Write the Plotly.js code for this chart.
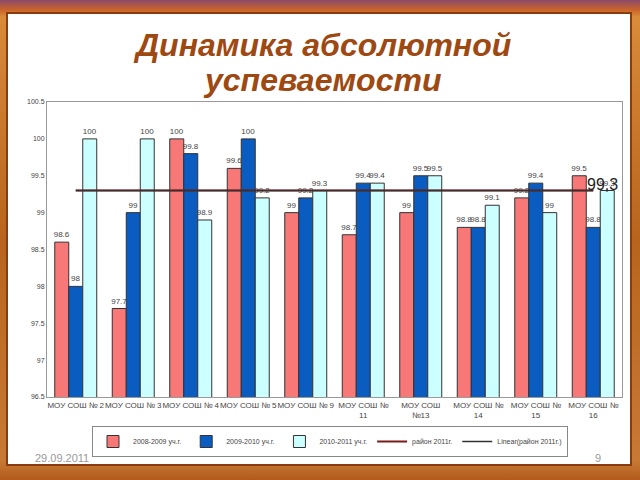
<!DOCTYPE html>
<html>
<head>
<meta charset="utf-8">
<script src="https://cdn.plot.ly/plotly-3.0.1.min.js"></script>
<style>
  html, body { margin:0; padding:0; }
  body { width:640px; height:480px; position:relative; overflow:hidden;
         background: linear-gradient(180deg, #8a4a6a 0%, #c8622a 2%, #d98a3a 3.5%, #b8641e 50%, #c77a34 96%, #b25a1c 100%); }
  #panel { position:absolute; left:8px; top:14px; width:622px; height:450px; background:#fff;
           box-shadow: 0 0 0 2px #8a3c0c; }
  #chart { position:absolute; left:0; top:0; width:640px; height:480px; }
</style>
</head>
<body>
<div id="panel"></div>
<div id="chart"></div>
<script>
const categories = ["МОУ СОШ № 2", "МОУ СОШ № 3", "МОУ СОШ № 4", "МОУ СОШ № 5", "МОУ СОШ № 9",
                    "МОУ СОШ №<br>11", "МОУ СОШ<br>№13", "МОУ СОШ №<br>14", "МОУ СОШ №<br>15", "МОУ СОШ №<br>16"];
const y2008 = [98.6, 97.7, 100, 99.6, 99, 98.7, 99, 98.8, 99.2, 99.5];
const y2009 = [98, 99, 99.8, 100, 99.2, 99.4, 99.5, 98.8, 99.4, 98.8];
const y2010 = [100, 100, 98.9, 99.2, 99.3, 99.4, 99.5, 99.1, 99, 99.3];
const rayon2011 = [99.3, 99.3, 99.3, 99.3, 99.3, 99.3, 99.3, 99.3, 99.3, 99.3];
const seriesNames = ["2008-2009 уч.г.", "2009-2010 уч.г.", "2010-2011 уч.г.", "район 2011г.", "Linear(район 2011г.)"];
const yTicks = [96.5, 97, 97.5, 98, 98.5, 99, 99.5, 100, 100.5];
const titleLines = ["Динамика абсолютной", "успеваемости"];

function barTrace(vals, name, color) {
  return {
    type: 'bar', x: categories, y: vals, name: name,
    marker: { color: color, line: { color: '#333', width: 1 } },
    text: vals.map(String), textposition: 'outside', cliponaxis: false,
    constraintext: 'none',
    textfont: { family: 'Liberation Sans, Arial', size: 8, color: '#444' }
  };
}

const data = [
  barTrace(y2008, seriesNames[0], '#F87878'),
  barTrace(y2009, seriesNames[1], '#0A5CC0'),
  barTrace(y2010, seriesNames[2], '#CCFFFF'),
  { type: 'scatter', mode: 'lines', x: categories, y: rayon2011, name: seriesNames[3],
    line: { color: '#7a1a1a', width: 2 } },
  { type: 'scatter', mode: 'lines', x: categories, y: rayon2011, name: seriesNames[4],
    line: { color: '#333', width: 1.5 } }
];

const pw = 575, ph = 295, L = 47, T = 102;
const px = v => (v - L) / pw;
const py = v => (T + ph - v) / ph;
const titleFont = { family: 'Liberation Sans, Arial', size: 32, color: '#9E4812', weight: 'bold', style: 'italic' };

const layout = {
  width: 640, height: 480,
  paper_bgcolor: 'rgba(0,0,0,0)', plot_bgcolor: '#fff',
  margin: { l: 47, r: 18, t: 102, b: 83 },
  barmode: 'group', bargap: 0.27, bargroupgap: 0,
  showlegend: true,
  legend: { orientation: 'h', x: px(330), y: py(426), xanchor: 'center', yanchor: 'top',
            bordercolor: '#888', borderwidth: 1, bgcolor: '#fff',
            font: { family: 'Liberation Sans, Arial', size: 7, color: '#444' },
            itemwidth: 30, tracegroupgap: 0 },
  xaxis: { type: 'category', showline: true, linecolor: '#999', mirror: true, ticks: '',
           tickangle: 0,
           tickfont: { family: 'Liberation Sans, Arial', size: 8, color: '#444' } },
  yaxis: { range: [96.5, 100.5], tickvals: yTicks, ticktext: yTicks.map(String),
           showgrid: false, zeroline: false, showline: true, linecolor: '#999', mirror: true,
           ticks: '', tickfont: { family: 'Liberation Sans, Arial', size: 7, color: '#444' } },
  annotations: [
    { xref: 'paper', yref: 'paper', x: px(322), y: py(45), text: titleLines[0], showarrow: false,
      xanchor: 'center', yanchor: 'middle', font: titleFont },
    { xref: 'paper', yref: 'paper', x: px(322), y: py(80), text: titleLines[1], showarrow: false,
      xanchor: 'center', yanchor: 'middle', font: titleFont },
    { x: categories[9], y: 99.3, xref: 'x', yref: 'y', text: '99,3', showarrow: false,
      xanchor: 'left', yanchor: 'bottom', xshift: -8, yshift: -4,
      font: { family: 'Liberation Sans, Arial', size: 16, color: '#222' } },
    { xref: 'paper', yref: 'paper', x: px(62), y: py(458), text: '29.09.2011', showarrow: false,
      xanchor: 'center', yanchor: 'middle',
      font: { family: 'Liberation Sans, Arial', size: 11, color: '#999' } },
    { xref: 'paper', yref: 'paper', x: px(598), y: py(458), text: '9', showarrow: false,
      xanchor: 'center', yanchor: 'middle',
      font: { family: 'Liberation Sans, Arial', size: 11, color: '#999' } }
  ]
};

Plotly.newPlot('chart', data, layout, { displayModeBar: false, staticPlot: true });
</script>
</body>
</html>
